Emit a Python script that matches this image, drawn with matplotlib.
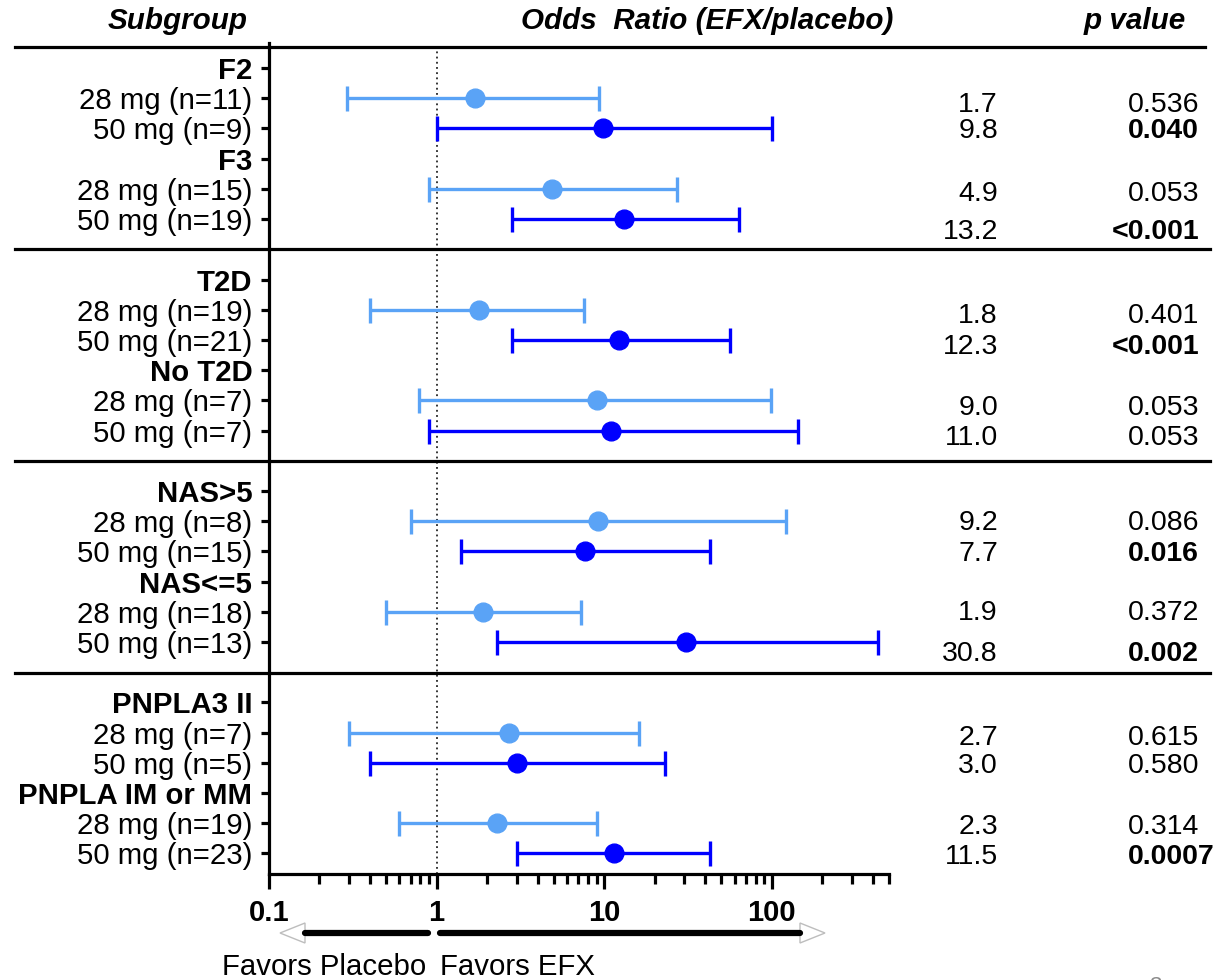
import matplotlib
matplotlib.use("Agg")
import matplotlib.pyplot as plt
from matplotlib.lines import Line2D
from matplotlib.patches import Polygon
from matplotlib.ticker import LogLocator, FixedLocator, NullFormatter

plt.rcParams['font.family'] = ['Liberation Sans', 'DejaVu Sans']

# ---------------- data ----------------
group_names = ["F2", "F3", "T2D", "No T2D", "NAS>5", "NAS<=5", "PNPLA3 II", "PNPLA IM or MM"]
n_28 = [11, 15, 19, 7, 8, 18, 7, 19]
n_50 = [9, 19, 21, 7, 15, 13, 5, 23]
or_28 = [1.7, 4.9, 1.8, 9.0, 9.2, 1.9, 2.7, 2.3]
lo_28 = [0.29, 0.90, 0.40, 0.79, 0.70, 0.50, 0.30, 0.60]
hi_28 = [9.3, 27.0, 7.6, 99.0, 121.0, 7.3, 16.2, 9.1]
or_50 = [9.8, 13.2, 12.3, 11.0, 7.7, 30.8, 3.0, 11.5]
lo_50 = [1.0, 2.8, 2.8, 0.90, 1.39, 2.3, 0.40, 3.0]
hi_50 = [100.0, 64.0, 56.0, 143.0, 43.0, 431.0, 22.9, 42.6]
p_28 = ["0.536", "0.053", "0.401", "0.053", "0.086", "0.372", "0.615", "0.314"]
p_50 = ["0.040", "<0.001", "<0.001", "0.053", "0.016", "0.002", "0.580", "0.0007"]
x_ticks = [0.1, 1, 10, 100]
x_tick_labels = ["0.1", "1", "10", "100"]

# ---------------- layout ----------------
W, H = 1219, 980
fig = plt.figure(figsize=(W / 100, H / 100), dpi=100)
ax_l, ax_r, ax_t, ax_b = 269, 889, 43, 874
ax = fig.add_axes([ax_l / W, 1 - ax_b / H, (ax_r - ax_l) / W, (ax_b - ax_t) / H])
ax.set_xscale('log')
ax.set_xlim(0.1, 500)
ax.set_ylim(26.68, -0.83)

c28 = '#5aa3f6'
c50 = '#0000ff'
fs_lab = 21.2
fs_hdr = 21.3
fs_num = 20.5
fs_tick = 21

rows, labels, bold = [], [], []
seps = []
for i, g in enumerate(group_names):
    s, k = divmod(i, 2)
    base = s * 7 + k * 3
    rows += [base, base + 1, base + 2]
    labels += [g, f"28 mg (n={n_28[i]})", f"50 mg (n={n_50[i]})"]
    bold += [True, False, False]
    y28, y50 = base + 1, base + 2
    for (o, lo, hi, y, c) in [(or_28[i], lo_28[i], hi_28[i], y28, c28),
                              (or_50[i], lo_50[i], hi_50[i], y50, c50)]:
        ax.errorbar([o], [y], xerr=[[o - lo], [hi - o]], fmt='o', color=c,
                    ms=13.5, lw=2.4, capsize=9, capthick=2.4, zorder=3, clip_on=False)
    if k == 1 and s < 3:
        seps.append(base + 3)

# reference line
ax.axvline(1, color='black', lw=1.1, ls=(0, (1.2, 2.2)), zorder=1)

# spines & ticks
for sp in ['top', 'right']:
    ax.spines[sp].set_visible(False)
ax.spines['left'].set_linewidth(2.3)
ax.spines['bottom'].set_linewidth(2.3)
ax.set_yticks(rows)
ax.set_yticklabels(labels, fontsize=fs_lab)
for t, b in zip(ax.get_yticklabels(), bold):
    if b:
        t.set_fontweight('bold')
ax.tick_params(axis='y', length=6, width=2.3, pad=6)
ax.xaxis.set_major_locator(FixedLocator(x_ticks))
ax.set_xticklabels(x_tick_labels, fontsize=fs_tick, fontweight='bold')
ax.xaxis.set_minor_locator(LogLocator(base=10, subs=range(2, 10)))
ax.xaxis.set_minor_formatter(NullFormatter())
ax.tick_params(axis='x', which='major', length=11, width=2.3, pad=7)
ax.tick_params(axis='x', which='minor', length=7, width=2.3)

# horizontal lines across the figure
def ypx(r):
    return 68 + r * (854 - 68) / 26

fig.add_artist(Line2D([15 / W, 1205 / W], [1 - 47 / H, 1 - 47 / H], color='black', lw=2.3))
for r in seps:
    y = 1 - ypx(r) / H
    fig.add_artist(Line2D([15 / W, 1210 / W], [y, y], color='black', lw=2.3))

# headers
hdr = dict(fontsize=fs_hdr, fontweight='bold', fontstyle='italic', va='center', ha='center')
fig.text(178 / W, 1 - 21 / H, "Subgroup", **hdr)
fig.text(707 / W, 1 - 21 / H, "Odds  Ratio (EFX/placebo)", **hdr)
fig.text(1135 / W, 1 - 21 / H, "p value", **hdr)

# values columns
nudge = [7, 3, 5, 13, 6, 7, 7, 7, 2, 2, 1, 12, 5, 3, 3, 3]
j = 0
for i in range(len(group_names)):
    s, k = divmod(i, 2)
    base = s * 7 + k * 3
    for o, p, r in [(or_28[i], p_28[i], base + 1), (or_50[i], p_50[i], base + 2)]:
        yy = 1 - (ypx(r) + nudge[j]) / H
        j += 1
        fig.text(998 / W, yy, f"{o:.1f}", fontsize=fs_num, ha='right', va='center')
        pv = float(p.lstrip('<'))
        w = 'bold' if pv < 0.05 else 'normal'
        if p.startswith('<'):
            fig.text(1199 / W, yy, p, fontsize=fs_num, ha='right', va='center', fontweight=w)
        else:
            fig.text(1128 / W, yy, p, fontsize=fs_num, ha='left', va='center', fontweight=w)

# favors arrows
ya = 1 - 933 / H
def arrow(x0, x1, tip):
    fig.add_artist(Line2D([x0 / W, x1 / W], [ya, ya], color='black', lw=4.5,
                          solid_capstyle='round'))
    base = x0 if tip < x0 else x1
    tri = Polygon([[tip / W, ya], [base / W, ya + 10 / H], [base / W, ya - 10 / H]],
                  closed=True, fill=False, edgecolor='#bdbdbd', lw=1.0,
                  transform=fig.transFigure)
    fig.add_artist(tri)

arrow(305, 428, 280)
arrow(440, 800, 825)
fig.text(222 / W, 1 - 967 / H, "Favors Placebo", fontsize=fs_lab, ha='left', va='center')
fig.text(440 / W, 1 - 967 / H, "Favors EFX", fontsize=fs_lab, ha='left', va='center')
fig.text(1155 / W, 1 - 976 / H, "3", fontsize=16, color='#8c8c8c', ha='center', va='top')

fig.savefig("out.png", dpi=100)
